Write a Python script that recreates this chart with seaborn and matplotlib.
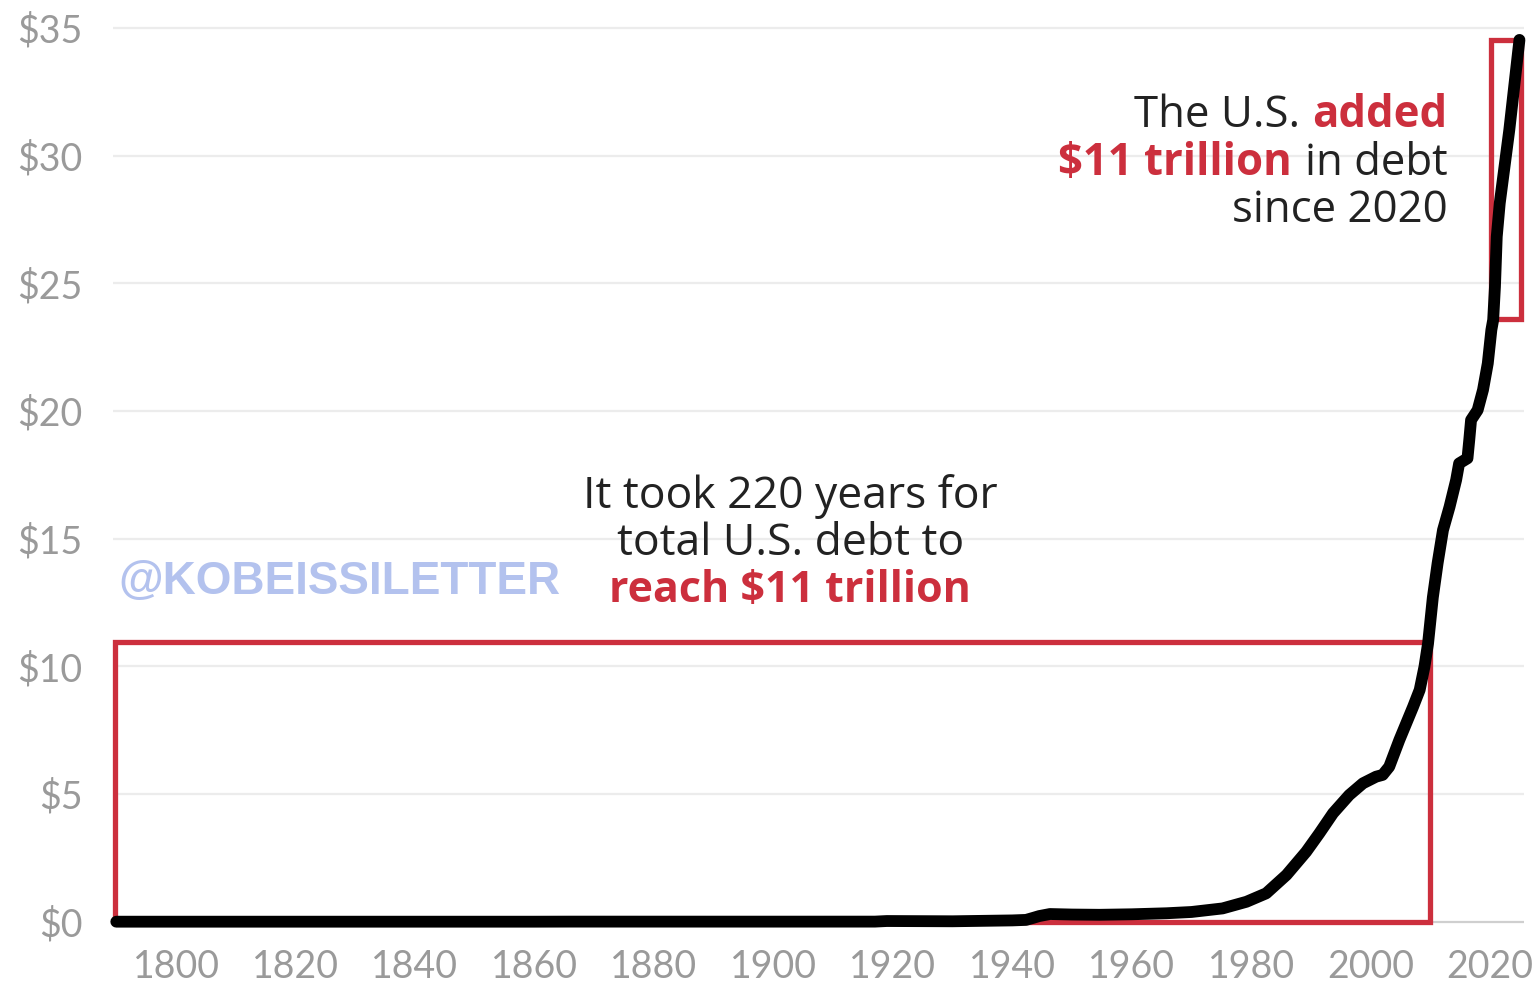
import numpy as np
import pandas as pd
import seaborn as sns
import matplotlib.pyplot as plt
from matplotlib.patches import Rectangle
from matplotlib.offsetbox import TextArea, HPacker, VPacker, AnnotationBbox

sns.set_style("white")
plt.rcParams['font.family'] = ['Lato', 'DejaVu Sans']

# total U.S. debt, trillions of dollars
years = [1790, 1820, 1860, 1866, 1900, 1917, 1919, 1930, 1940, 1942.3, 1943.5, 1944.5,
         1946.3, 1950, 1954.6, 1960, 1965.8, 1970, 1975.2, 1979.2, 1982.5, 1985.9,
         1989.2, 1991.4, 1993.7, 1996.4, 1998.7, 2000.9, 2002.0, 2003.1, 2004.8,
         2007.1, 2008.2, 2009.0, 2009.6, 2010.4, 2011.2, 2012.1, 2013.2, 2014.3,
         2014.8, 2016.2, 2016.5, 2016.8, 2017.9, 2018.8, 2019.6, 2020.2, 2020.5,
         2020.8, 2021.1, 2021.6, 2023.2, 2024.9]
debt = [0.0, 0.0, 0.0, 0.003, 0.002, 0.003, 0.026, 0.016, 0.05, 0.07, 0.15, 0.22,
        0.30, 0.28, 0.27, 0.29, 0.33, 0.38, 0.52, 0.78, 1.11, 1.83,
        2.74, 3.46, 4.25, 4.96, 5.42, 5.68, 5.75, 6.07, 7.12,
        8.42, 9.08, 9.99, 10.9, 12.7, 14.04, 15.34, 16.25, 17.3,
        17.95, 18.15, 18.87, 19.65, 20.04, 20.83, 21.87, 23.18, 23.57,
        24.87, 26.83, 28.14, 31.01, 34.54]

y_ticks = [0, 5, 10, 15, 20, 25, 30, 35]
x_ticks = [1800, 1820, 1840, 1860, 1880, 1900, 1920, 1940, 1960, 1980, 2000, 2020]

# highlight boxes: (x0, x1), (y0, y1)
box_220_x = [1789.8, 2010.0]
box_220_y = [0.0, 10.97]
box_2020_x = [2020.1, 2025.1]
box_2020_y = [23.59, 34.55]

RED = '#cc2f3d'
INK = '#222222'
GREY = '#9a9a9a'
NOTE_FONT = ['Open Sans', 'DejaVu Sans']

df = pd.DataFrame({'year': years, 'debt': debt})

fig = plt.figure(figsize=(15.37, 9.85), dpi=100)
ax = fig.add_axes([0.0737, 0.0565, 0.9176, 0.9227])

ax.set_xlim(1789.5, 2025.6)
ax.set_ylim(-0.3, 35.3)

for v in y_ticks:
    ax.axhline(v, color='#cfcfcf' if v == 0 else '#ececec', lw=1.6, zorder=0)

for bx, by in [(box_220_x, box_220_y), (box_2020_x, box_2020_y)]:
    ax.add_patch(Rectangle((bx[0], by[0]), bx[1] - bx[0], by[1] - by[0],
                           fill=False, edgecolor=RED, lw=3.8, zorder=2,
                           clip_on=False))

sns.lineplot(data=df, x='year', y='debt', ax=ax, color='black', lw=8.5,
             estimator=None, sort=False, zorder=3)
ax.lines[-1].set_solid_capstyle('round')
ax.lines[-1].set_solid_joinstyle('round')
ax.lines[-1].set_clip_on(False)

ax.set_xticks(x_ticks)
ax.set_yticks(y_ticks)
ax.set_yticklabels([f'${v}' for v in y_ticks])
ax.tick_params(axis='both', length=0, labelsize=27, labelcolor=GREY)
ax.tick_params(axis='x', pad=14)
ax.tick_params(axis='y', pad=22)
ax.set_xlabel('')
ax.set_ylabel('')
sns.despine(ax=ax, left=True, bottom=True)

# watermark
ax.text(1790.3, 13.3, '@KOBEISSILETTER', fontsize=33, fontweight='bold',
        color='#b3c2ee', family=['Liberation Sans', 'DejaVu Sans'],
        ha='left', va='center', zorder=1)


def part(s, red=False, size=31.5):
    return TextArea(s, textprops=dict(fontsize=size, family=NOTE_FONT,
                                      color=RED if red else INK,
                                      fontweight='bold' if red else 'normal'))


# top right note
top_note = VPacker(children=[
    HPacker(children=[part('The U.S.'), part('added', True)], sep=9, pad=0),
    HPacker(children=[part('$11 trillion', True), part('in debt')], sep=9, pad=0),
    HPacker(children=[part('since 2020')], sep=0, pad=0),
], align='right', sep=2, pad=0)
ax.add_artist(AnnotationBbox(top_note, (2012.85, 29.72), xycoords='data',
                             box_alignment=(1, 0.5), frameon=False))

# bottom note
low_note = VPacker(children=[
    HPacker(children=[part('It took 220 years for', size=32)], sep=0, pad=0),
    HPacker(children=[part('total U.S. debt to', size=32)], sep=0, pad=0),
    HPacker(children=[part('reach $11 trillion', True, size=31)], sep=0, pad=0),
], align='center', sep=2, pad=0)
ax.add_artist(AnnotationBbox(low_note, (1902.8, 14.83), xycoords='data',
                             box_alignment=(0.5, 0.5), frameon=False))

fig.savefig('out.png', dpi=100, facecolor='white')
